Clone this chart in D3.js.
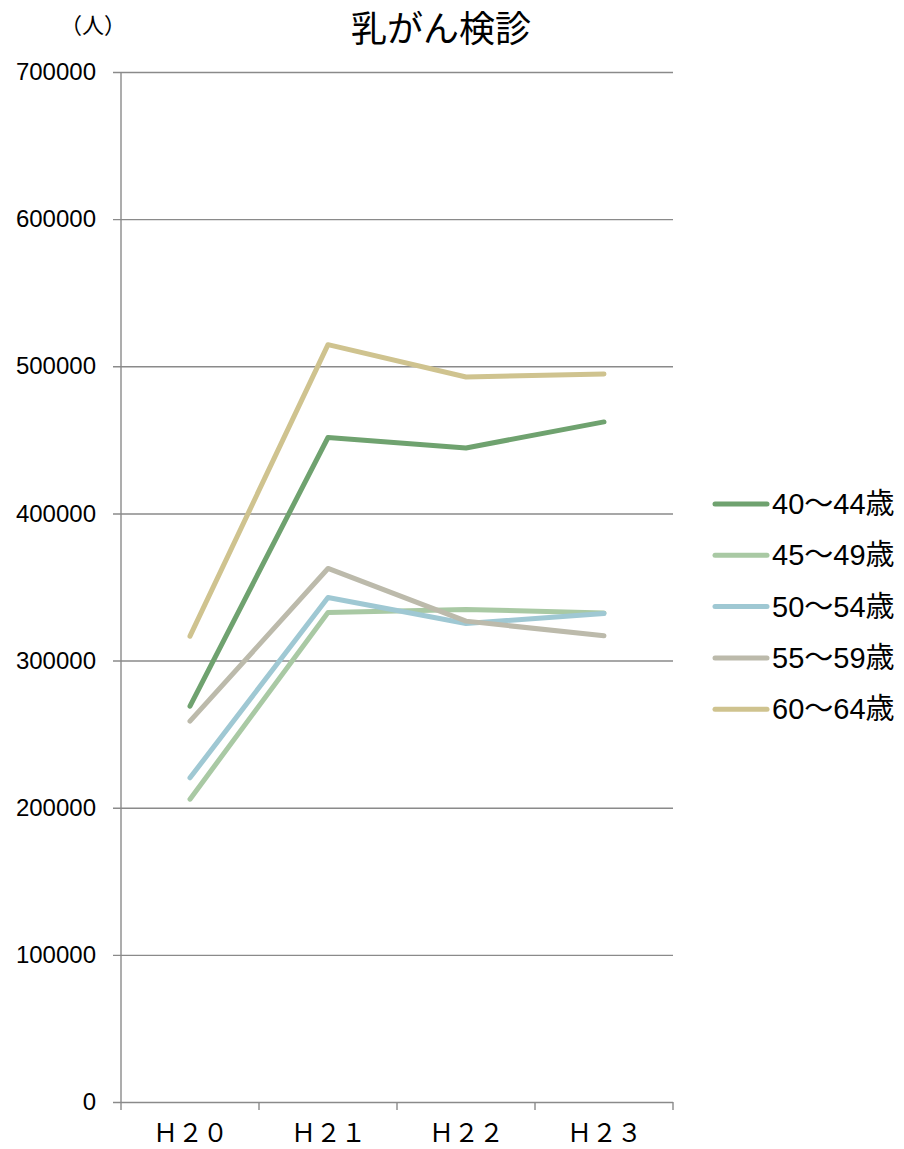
<!DOCTYPE html>
<html>
<head>
  <meta charset="utf-8">
  <title>乳がん検診</title>
  <script src="https://d3js.org/d3.v7.min.js"></script>
  <style type="text/css">
    body { margin: 0; padding: 0; background: #fff; }
    svg { display: block; }
  </style>
</head>
<body>
  <div id="chart"></div>
  <script>
    // data
    var categories = ["Ｈ２０", "Ｈ２１", "Ｈ２２", "Ｈ２３"];
    var seriesNames = ["40～44歳", "45～49歳", "50～54歳", "55～59歳", "60～64歳"];
    var age40 = [269000, 451600, 444500, 462200];
    var age45 = [205800, 332700, 334700, 332400];
    var age50 = [220300, 342900, 325200, 332000];
    var age55 = [258800, 362600, 326800, 316800];
    var age60 = [316600, 514700, 492700, 494800];
    var yTicks = [0, 100000, 200000, 300000, 400000, 500000, 600000, 700000];
    var colors = ["#6fa26f", "#a9c9a4", "#9fc8d3", "#bcbaab", "#cfc38f"];

    var series = [age40, age45, age50, age55, age60];

    var W = 904, H = 1149;
    var plotLeft = 121, plotRight = 673, plotTop = 72, plotBottom = 1102;

    var svg = d3.select("#chart").append("svg")
      .attr("width", W)
      .attr("height", H);

    var y = d3.scaleLinear().domain([0, 700000]).range([plotBottom, plotTop]);
    var xBand = d3.scaleBand().domain(categories).range([plotLeft, plotRight]);
    var x = d3.scalePoint().domain(categories).range([plotLeft, plotRight]).padding(0.5);

    // y axis + gridlines
    var yAxis = svg.append("g")
      .attr("transform", "translate(113,0)")
      .call(d3.axisLeft(y).tickValues(yTicks).tickSize(-(plotRight - 113)).tickPadding(17).tickFormat(d3.format("d")));
    yAxis.select(".domain").remove();
    yAxis.selectAll(".tick line").attr("stroke", "#8a8a8a").attr("stroke-width", 1.4);
    yAxis.selectAll(".tick text")
      .attr("font-family", "'Liberation Sans', Arial, sans-serif")
      .attr("font-size", 24)
      .attr("fill", "#000");

    svg.append("line")
      .attr("x1", plotLeft).attr("x2", plotLeft)
      .attr("y1", plotTop).attr("y2", plotBottom)
      .attr("stroke", "#8a8a8a").attr("stroke-width", 1.4);

    // x axis tick marks at band edges
    var edges = categories.map(function (c) { return xBand(c); }).concat([plotRight]);
    svg.selectAll(".xtick")
      .data(edges)
      .join("line")
      .attr("class", "xtick")
      .attr("x1", function (d) { return d; })
      .attr("x2", function (d) { return d; })
      .attr("y1", plotBottom).attr("y2", plotBottom + 8)
      .attr("stroke", "#8a8a8a").attr("stroke-width", 1.4);

    var xAxis = svg.append("g")
      .attr("transform", "translate(0," + plotBottom + ")")
      .call(d3.axisBottom(x).tickSize(0));
    xAxis.select(".domain").remove();
    xAxis.selectAll(".tick text")
      .attr("y", 40)
      .attr("dy", 0)
      .attr("font-family", "'Noto Sans CJK JP', sans-serif")
      .attr("font-size", 25)
      .attr("fill", "#000");

    // lines
    var line = d3.line()
      .x(function (d, i) { return x(categories[i]); })
      .y(function (d) { return y(d); });

    svg.selectAll(".series")
      .data(series)
      .join("path")
      .attr("class", "series")
      .attr("d", line)
      .attr("fill", "none")
      .attr("stroke", function (d, i) { return colors[i]; })
      .attr("stroke-width", 5)
      .attr("stroke-linecap", "round")
      .attr("stroke-linejoin", "round");

    // title and unit
    svg.append("text")
      .attr("x", 441).attr("y", 42)
      .attr("text-anchor", "middle")
      .attr("font-family", "'Noto Sans CJK JP', sans-serif")
      .attr("font-size", 36)
      .text("乳がん検診");

    svg.append("text")
      .attr("x", 60).attr("y", 33)
      .attr("font-family", "'Noto Sans CJK JP', sans-serif")
      .attr("font-size", 22)
      .text("（人）");

    // legend
    var legend = svg.selectAll(".legend")
      .data(seriesNames)
      .join("g")
      .attr("class", "legend")
      .attr("transform", function (d, i) { return "translate(715," + (504 + i * 51.3) + ")"; });

    legend.append("line")
      .attr("x1", 0).attr("x2", 52)
      .attr("stroke", function (d, i) { return colors[i]; })
      .attr("stroke-width", 5)
      .attr("stroke-linecap", "round");

    legend.append("text")
      .attr("x", 57).attr("y", 10)
      .attr("font-family", "'Liberation Sans', 'Noto Sans CJK JP', sans-serif")
      .attr("font-size", 29)
      .text(function (d) { return d; });
  </script>
</body>
</html>
